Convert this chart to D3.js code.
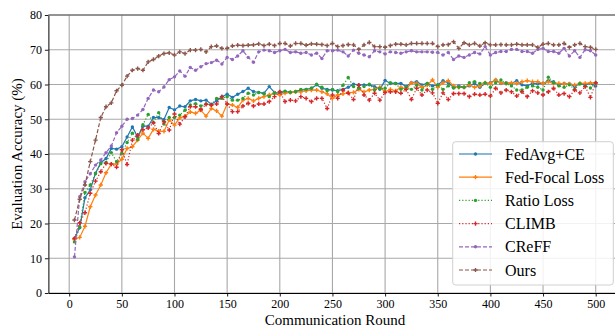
<!DOCTYPE html>
<html lang="en">

<head>
    <meta charset="UTF-8">
    <title>Evaluation Accuracy</title>
    <script src="https://d3js.org/d3.v7.min.js"></script>
    <style>
        body { margin: 0; background: #fff; }
        svg, svg text { font-family: "Liberation Serif", "Times New Roman", serif; }
    </style>
</head>

<body>
    <svg id="chart" width="615" height="329"></svg>

    <script>
        // Communication rounds 5, 10, ..., 500
        const rounds = d3.range(5, 501, 5);
        const xTicks = [0, 50, 100, 150, 200, 250, 300, 350, 400, 450, 500];
        const yTicks = [0, 10, 20, 30, 40, 50, 60, 70, 80];

        const fedAvg = [
            15.7, 18.8, 27.4, 29.7, 34.5, 37.5, 38.7, 41.6, 41.4, 42.1, 44.9, 47.8, 44.9, 48.0, 48.0, 50.5, 50.5, 49.9, 53.4, 52.7,
            53.8, 53.6, 55.3, 55.7, 55.3, 55.5, 54.3, 55.3, 56.5, 57.2, 56.3, 57.2,
            58.0, 58.9, 58.0, 57.7, 57.5, 59.4, 57.7, 57.5, 58.0, 57.7, 58.0, 58.4, 58.6, 58.9, 59.9, 58.9, 58.6, 58.4, 58.2, 58.6,
            59.2, 60.1, 59.9, 59.9, 59.9, 59.4, 58.6, 61.2, 60.3, 60.3, 60.3, 59.4, 60.5, 60.8, 59.9, 60.3,
            59.6,
            59.9, 61.1, 60.5, 59.2, 59.6, 59.2, 59.6, 60.3, 59.2, 60.3, 60.5, 61.3, 60.3, 60.5, 60.3, 61.1, 59.9, 59.6, 60.3, 60.2,
            60.3, 61.1, 60.8, 59.9, 60.3, 60.2, 59.4, 60.3, 59.9, 60.3, 59.6
        ];
        const fedFocal = [
            15.4, 16.0, 19.2, 24.8, 28.2, 31.1, 34.6, 37.1, 37.1, 38.5, 41.6, 42.1, 44.0, 46.0, 44.5, 47.1, 46.6, 46.5, 49.8, 48.3,
            50.4, 50.9, 52.1, 51.7, 52.6, 50.9, 53.1, 52.4, 50.9, 54.4, 54.1, 53.4,
            55.5, 56.0, 55.3, 56.0, 56.5, 57.0, 57.5, 57.0, 57.5, 57.7, 57.9, 57.9, 58.2, 58.4, 58.4, 57.9, 57.3, 56.0, 57.0, 57.3,
            57.7, 57.7, 58.6, 57.9, 58.4, 58.6, 59.2, 57.9, 58.6, 58.2, 59.2, 58.6, 60.5, 60.3, 59.2, 59.8,
            61.3,
            59.2, 60.5, 61.1, 59.6, 59.2, 59.2, 59.9, 59.2, 59.6, 60.5, 60.3, 61.3, 60.5, 60.3, 60.5, 60.3, 60.8, 61.1, 60.8, 60.8,
            60.3, 60.8, 60.3, 60.3, 60.2, 60.2, 59.9, 60.3, 60.3, 60.5, 60.3
        ];
        const ratioLoss = [
            14.7, 19.0, 28.9, 31.1, 34.3, 37.2, 37.6, 40.4, 37.8, 40.2, 43.3, 46.0, 44.2, 48.4, 51.4, 49.0, 51.9, 48.6, 50.5, 50.5,
            51.2, 52.6, 54.1, 54.5, 53.8, 54.4, 54.1, 56.0, 56.0, 56.5, 55.5, 55.5,
            56.0, 57.5, 57.0, 57.7, 57.3, 56.5, 57.5, 57.9, 58.1, 57.8, 57.9, 58.6, 58.6, 58.9, 60.1, 59.2, 58.2, 58.6, 57.9, 59.8,
            62.0, 59.4, 58.9, 59.4, 60.1, 58.4, 58.9, 58.9, 60.5, 60.3, 58.6, 59.2, 58.6, 59.8, 58.4, 60.3,
            58.6,
            59.9, 58.6, 59.6, 59.0, 59.2, 59.2, 60.5, 60.8, 60.3, 60.5, 59.2, 60.5, 61.3, 60.3, 59.6, 58.4, 58.4, 59.2, 59.6, 59.2,
            58.4, 62.1, 60.5, 59.6, 59.2, 59.9, 58.6, 60.2, 59.6, 59.0, 60.5
        ];
        const climb = [
            15.7, 20.2, 23.1, 28.7, 32.2, 34.9, 37.3, 37.1, 36.2, 41.2, 37.0, 44.0, 45.4, 47.0, 47.5, 49.0, 45.9, 49.3, 46.9, 51.5,
            48.6, 50.7, 53.6, 53.6, 52.8, 54.3, 54.1, 54.4, 56.5, 54.4, 52.2, 52.2,
            53.8, 54.6, 53.8, 54.4, 54.4, 55.1, 56.5, 57.9, 55.1, 55.5, 55.3, 56.5, 56.0, 55.1, 56.0, 56.0, 53.1, 57.0, 56.0, 58.4,
            57.5, 55.7, 59.8, 57.0, 55.5, 57.5, 55.5, 57.7, 57.9, 57.9, 57.5, 58.6, 55.7, 58.9, 57.0, 58.4,
            57.6,
            54.6, 57.6, 55.7, 57.4, 57.4, 57.4, 56.5, 57.2, 57.0, 57.2, 56.7, 58.9, 57.6, 58.4, 57.9, 56.7, 57.9, 56.5, 58.2, 57.6,
            57.0, 57.9, 58.9, 57.0, 57.4, 56.5, 58.4, 57.6, 59.4, 56.3, 60.5
        ];
        const creff = [
            10.4, 27.7, 32.0, 34.3, 36.8, 38.3, 40.4, 42.3, 46.1, 48.0, 50.0, 50.2, 51.2, 52.8, 56.0, 58.4, 57.9, 59.3, 61.4, 62.2,
            63.9, 62.4, 64.9, 64.1, 65.1, 66.0, 66.3, 67.0, 65.9, 67.8, 67.2, 68.2,
            69.7, 67.8, 66.4, 69.4, 69.9, 69.7, 69.2, 69.7, 70.1, 69.2, 69.4, 69.0, 69.2, 68.5, 69.0, 67.5, 69.7, 69.7, 69.9, 69.4,
            68.2, 69.9, 69.0, 68.5, 68.0, 69.7, 69.4, 68.8, 69.4, 69.2, 69.0, 69.4, 69.7, 69.4, 69.4, 69.4,
            69.3,
            69.2, 68.5, 69.2, 67.2, 68.2, 67.8, 68.5, 69.2, 68.8, 70.9, 68.5, 69.2, 69.5, 69.5, 70.1, 70.1, 69.5, 69.5, 69.0, 70.1,
            70.4, 69.5, 69.5, 69.0, 70.4, 68.2, 69.7, 67.8, 70.0, 69.7, 68.5
        ];
        const ours = [
            21.0, 27.0, 31.1, 37.8, 44.0, 50.5, 53.6, 54.7, 58.2, 59.8, 62.4, 64.1, 64.6, 64.1, 66.5, 67.2, 68.2, 68.9, 69.1, 68.5,
            69.4, 68.9, 69.9, 69.9, 70.1, 69.4, 70.9, 71.1, 70.4, 70.4, 71.1, 71.3,
            71.2, 71.3, 71.4, 71.7, 71.2, 71.6, 71.2, 71.8, 71.8, 71.1, 71.8, 71.8, 71.3, 71.7, 71.6, 71.5, 71.2, 71.8, 70.9, 71.2,
            71.5, 71.4, 70.1, 71.4, 72.1, 70.9, 70.9, 70.7, 71.2, 71.6, 71.6, 71.4, 71.8, 71.8, 71.8, 71.8,
            71.8,
            70.9, 71.4, 71.5, 72.3, 70.4, 72.0, 71.4, 71.8, 71.1, 72.0, 71.4, 71.4, 71.5, 71.4, 71.4, 71.6, 71.4, 71.4, 71.4, 70.7,
            71.6, 71.8, 71.4, 71.4, 71.8, 70.7, 71.4, 71.8, 70.9, 70.7, 70.1
        ];

        const seriesNames = ["FedAvg+CE", "Fed-Focal Loss", "Ratio Loss", "CLIMB", "CReFF", "Ours"];
        const seriesValues = [fedAvg, fedFocal, ratioLoss, climb, creff, ours];

        // Look of each series (matplotlib tab10 colours)
        const styles = [
            { color: "#1f77b4", dash: null, marker: "dot" },
            { color: "#ff7f0e", dash: null, marker: "plus" },
            { color: "#2ca02c", dash: "1.2,2", marker: "dot" },
            { color: "#d62728", dash: "1.2,2", marker: "plus" },
            { color: "#9467bd", dash: "4,2", marker: "dot" },
            { color: "#8c564b", dash: "4,2", marker: "plus" }
        ];

        // Set up the plot area
        const margin = { top: 15, left: 48.4, bottom: 36 };
        const svgWidth = 615, svgHeight = 329;
        const plotBottom = svgHeight - margin.bottom;
        const serif = '"Liberation Serif", "Times New Roman", serif';

        const svg = d3.select("#chart");

        const xScale = d3.scaleLinear()
            .domain([-19.75, 524.75])
            .range([margin.left, margin.left + 544.5 * 1.053]);

        const yScale = d3.scaleLinear()
            .domain([0, 80])
            .range([plotBottom, margin.top]);

        // Grid lines
        svg.append("g")
            .selectAll("line")
            .data(xTicks)
            .join("line")
            .attr("x1", d => xScale(d)).attr("x2", d => xScale(d))
            .attr("y1", margin.top).attr("y2", plotBottom)
            .attr("stroke", "#a8a8a8").attr("stroke-width", 1.1);

        svg.append("g")
            .selectAll("line")
            .data(yTicks)
            .join("line")
            .attr("x1", margin.left).attr("x2", svgWidth)
            .attr("y1", d => yScale(d)).attr("y2", d => yScale(d))
            .attr("stroke", "#a8a8a8").attr("stroke-width", 1.1);

        // Axes
        const xAxis = svg.append("g")
            .attr("transform", `translate(0,${plotBottom})`)
            .call(d3.axisBottom(xScale).tickValues(xTicks).tickSize(3.5).tickPadding(3).tickSizeOuter(0));

        const yAxis = svg.append("g")
            .attr("transform", `translate(${margin.left},0)`)
            .call(d3.axisLeft(yScale).tickValues(yTicks).tickSize(3.5).tickPadding(3).tickSizeOuter(0));

        [xAxis, yAxis].forEach(ax => {
            ax.attr("font-family", serif).attr("font-size", 12);
            ax.selectAll("text").attr("fill", "#000");
            ax.select(".domain").attr("stroke", "#000").attr("stroke-width", 1);
            ax.selectAll(".tick line").attr("stroke", "#000").attr("stroke-width", 0.9);
        });

        // Top spine
        svg.append("line")
            .attr("x1", margin.left).attr("x2", svgWidth)
            .attr("y1", margin.top).attr("y2", margin.top)
            .attr("stroke", "#555").attr("stroke-width", 1);

        // Lines and markers
        const line = d3.line()
            .x((d, i) => xScale(rounds[i]))
            .y(d => yScale(d));

        const cross = d3.symbol().type(d3.symbolCross).size(10);

        function drawMarker(sel, style) {
            if (style.marker === "dot") {
                sel.append("circle")
                    .attr("r", 1.7)
                    .attr("fill", style.color);
            } else {
                sel.append("path")
                    .attr("d", cross)
                    .attr("fill", style.color);
            }
        }

        seriesValues.forEach((vals, k) => {
            const st = styles[k];
            svg.append("path")
                .datum(vals)
                .attr("fill", "none")
                .attr("stroke", st.color)
                .attr("stroke-width", 1.2)
                .attr("stroke-dasharray", st.dash)
                .attr("d", line);

            svg.append("g")
                .selectAll("g")
                .data(vals)
                .join("g")
                .attr("transform", (d, i) => `translate(${xScale(rounds[i])},${yScale(d)})`)
                .each(function () { drawMarker(d3.select(this), st); });
        });

        // Axis titles
        svg.append("text")
            .attr("x", 335)
            .attr("y", 325)
            .attr("text-anchor", "middle")
            .style("font-size", "15px")
            .text("Communication Round");

        svg.append("text")
            .attr("transform", `translate(22,${(margin.top + plotBottom) / 2}) rotate(-90)`)
            .attr("text-anchor", "middle")
            .style("font-size", "15px")
            .text("Evaluation Accuracy (%)");

        // Legend
        const legend = svg.append("g");
        legend.append("rect")
            .attr("x", 452.7).attr("y", 141.7)
            .attr("width", 160.6).attr("height", 143.3)
            .attr("rx", 3)
            .attr("fill", "#fff").attr("fill-opacity", 0.85)
            .attr("stroke", "#d0d0d0");

        seriesNames.forEach((name, k) => {
            const st = styles[k];
            const ly = 154 + k * 23.2;
            legend.append("line")
                .attr("x1", 459).attr("x2", 492)
                .attr("y1", ly).attr("y2", ly)
                .attr("stroke", st.color)
                .attr("stroke-width", 1.2)
                .attr("stroke-dasharray", st.dash);
            drawMarker(legend.append("g").attr("transform", `translate(475.5,${ly})`), st);
            legend.append("text")
                .attr("x", 505)
                .attr("y", ly + 5.5)
                .style("font-size", "16px")
                .text(name);
        });
    </script>
</body>

</html>
